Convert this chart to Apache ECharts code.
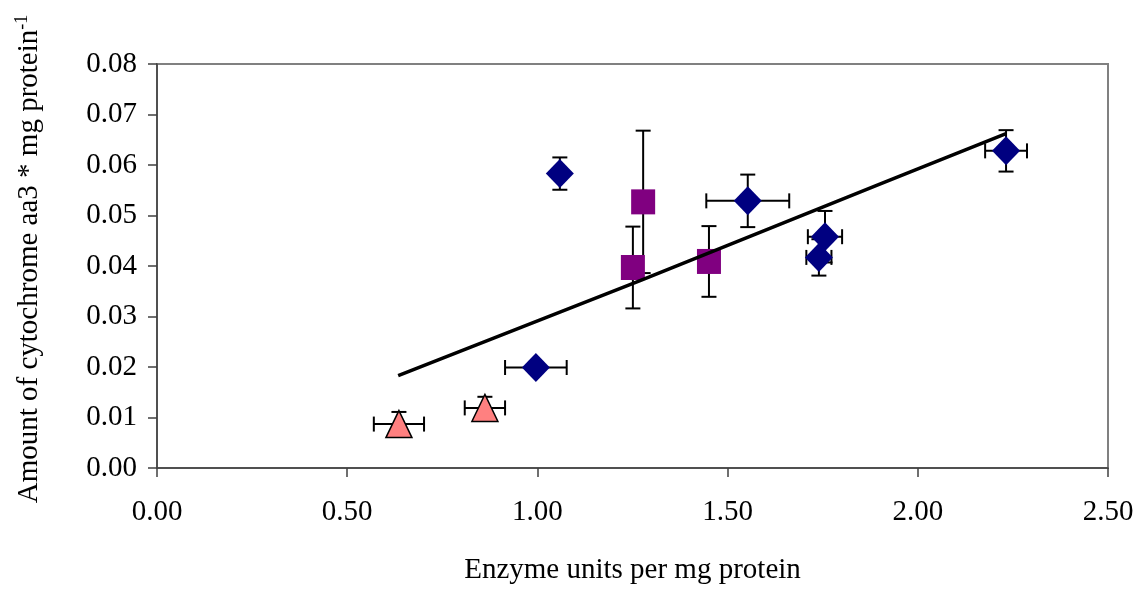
<!DOCTYPE html>
<html>
<head>
<meta charset="utf-8">
<script src="https://cdn.jsdelivr.net/npm/echarts@6/dist/echarts.min.js"></script>
<style>
  html, body { margin: 0; padding: 0; background: #fff; }
  #chart { width: 1145px; height: 590px; }
</style>
</head>
<body>
<div id="chart"></div>
<script>
// points: [x, y, xErr, yErr]
var diamonds = [
    [0.996, 0.0199, 0.081, 0.0008],
    [1.059, 0.0583, 0, 0.0032],
    [1.553, 0.0529, 0.109, 0.0052],
    [1.756, 0.0458, 0.045, 0.0051],
    [1.740, 0.0417, 0.033, 0.0036],
    [2.232, 0.0628, 0.055, 0.0041]
];
var squares = [
    [1.278, 0.0527, 0, 0.0141],
    [1.251, 0.0397, 0, 0.0081],
    [1.451, 0.0409, 0, 0.0070]
];
var triangles = [
    [0.636, 0.0087, 0.066, 0.0024],
    [0.862, 0.0119, 0.053, 0.0022]
];
// trend line as drawn
var trendLine = [
    [0.634, 0.0183],
    [1.270, 0.0371],
    [1.900, 0.0562],
    [2.232, 0.0662]
];
var xTicks = { min: 0, max: 2.5, interval: 0.5 };
var yTicks = { min: 0, max: 0.08, interval: 0.01 };

var font = 'Liberation Serif';
var allPoints = diamonds.concat(squares).concat(triangles);

// whiskers with caps, drawn behind the markers
var errorBars = function(params, api) {
    var x = api.value(0), y = api.value(1);
    var dx = api.value(2), dy = api.value(3);
    var cap = 7.5;
    var style = { stroke: '#000', lineWidth: 2 };
    var children = [];
    if (dy > 0) {
        var top = api.coord([x, y + dy]);
        var bot = api.coord([x, y - dy]);
        children.push({ type: 'line', shape: { x1: top[0], y1: top[1], x2: bot[0], y2: bot[1] }, style: style });
        children.push({ type: 'line', shape: { x1: top[0] - cap, y1: top[1], x2: top[0] + cap, y2: top[1] }, style: style });
        children.push({ type: 'line', shape: { x1: bot[0] - cap, y1: bot[1], x2: bot[0] + cap, y2: bot[1] }, style: style });
    }
    if (dx > 0) {
        var l = api.coord([x - dx, y]);
        var r = api.coord([x + dx, y]);
        children.push({ type: 'line', shape: { x1: l[0], y1: l[1], x2: r[0], y2: r[1] }, style: style });
        children.push({ type: 'line', shape: { x1: l[0], y1: l[1] - cap, x2: l[0], y2: l[1] + cap }, style: style });
        children.push({ type: 'line', shape: { x1: r[0], y1: r[1] - cap, x2: r[0], y2: r[1] + cap }, style: style });
    }
    return { type: 'group', children: children };
};

var option = {
    animation: false,
    backgroundColor: '#fff',
    grid: {
        left: 157, right: 37, top: 64, bottom: 121,
        show: true, borderColor: '#808080', borderWidth: 2, backgroundColor: 'transparent'
    },
    xAxis: {
        type: 'value',
        min: xTicks.min, max: xTicks.max, interval: xTicks.interval,
        name: 'Enzyme units per mg protein',
        nameLocation: 'middle',
        nameGap: 88,
        nameTextStyle: { fontFamily: font, fontSize: 29, color: '#000' },
        axisLine: { lineStyle: { color: '#404040', width: 1.5 } },
        axisTick: { inside: false, length: 9, lineStyle: { color: '#404040', width: 1.5 } },
        axisLabel: {
            fontFamily: font, fontSize: 29, color: '#000', margin: 30,
            formatter: function(v) { return v.toFixed(2); }
        },
        splitLine: { show: false }
    },
    yAxis: {
        type: 'value',
        min: yTicks.min, max: yTicks.max, interval: yTicks.interval,
        name: '{a|Amount of cytochrome aa3 * mg protein}{s|-1}',
        nameLocation: 'middle',
        nameGap: 112,
        nameTextStyle: {
            fontFamily: font, fontSize: 29, color: '#000',
            padding: [0, 0, 0, 14],
            rich: {
                a: { fontFamily: font, fontSize: 29, color: '#000', lineHeight: 32 },
                s: { fontFamily: font, fontSize: 18, color: '#000', verticalAlign: 'top', lineHeight: 32 }
            }
        },
        axisLine: { lineStyle: { color: '#404040', width: 1.5 } },
        axisTick: { inside: false, length: 9, lineStyle: { color: '#404040', width: 1.5 } },
        axisLabel: {
            fontFamily: font, fontSize: 29, color: '#000', margin: 20,
            formatter: function(v) { return v.toFixed(2); }
        },
        splitLine: { show: false }
    },
    series: [
        {
            type: 'custom',
            renderItem: errorBars,
            data: allPoints,
            z: 1,
            silent: true
        },
        {
            type: 'scatter',
            data: diamonds.map(function(p) { return [p[0], p[1]]; }),
            symbol: 'diamond',
            symbolSize: [28, 29],
            itemStyle: { color: '#000080', opacity: 1 },
            z: 2
        },
        {
            type: 'scatter',
            data: squares.map(function(p) { return [p[0], p[1]]; }),
            symbol: 'rect',
            symbolSize: [24, 25],
            itemStyle: { color: '#800080', opacity: 1 },
            z: 2
        },
        {
            type: 'scatter',
            data: triangles.map(function(p) { return [p[0], p[1]]; }),
            symbol: 'triangle',
            symbolSize: [26, 27],
            itemStyle: { color: '#FF8080', borderColor: '#000', borderWidth: 1.5, opacity: 1 },
            z: 2
        },
        {
            type: 'line',
            data: trendLine,
            symbol: 'none',
            lineStyle: { color: '#000', width: 3.5 },
            z: 3
        }
    ]
};

var myChart = echarts.init(document.getElementById('chart'));
myChart.setOption(option);
</script>
</body>
</html>
